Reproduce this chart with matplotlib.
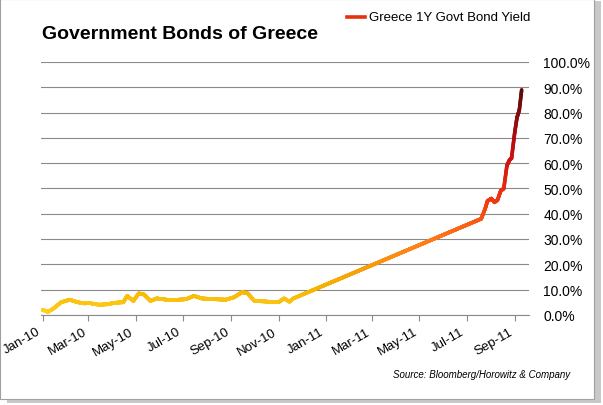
import numpy as np
import pandas as pd
import matplotlib.pyplot as plt
import matplotlib.dates as mdates
from matplotlib.collections import LineCollection
from matplotlib.colors import LinearSegmentedColormap
from matplotlib.patches import Rectangle

dates = ["2010-01-01", "2010-01-08", "2010-01-15", "2010-01-25", "2010-02-05", "2010-02-15",
         "2010-02-25", "2010-03-05", "2010-03-15", "2010-03-25", "2010-04-05", "2010-04-15",
         "2010-04-20", "2010-04-28", "2010-05-05", "2010-05-12", "2010-05-20", "2010-05-28",
         "2010-06-10", "2010-06-25", "2010-07-05", "2010-07-15", "2010-07-25", "2010-08-10",
         "2010-08-25", "2010-09-05", "2010-09-15", "2010-09-22", "2010-10-01", "2010-10-15",
         "2010-10-25", "2010-11-02", "2010-11-08", "2010-11-15", "2010-11-20",
         "2011-07-20", "2011-07-25", "2011-07-28", "2011-08-02", "2011-08-06", "2011-08-10",
         "2011-08-14", "2011-08-18", "2011-08-22", "2011-08-25", "2011-08-28", "2011-09-01",
         "2011-09-04", "2011-09-07", "2011-09-10"]
yields = [2.0, 1.2, 2.5, 5.0, 6.0, 5.0, 4.5, 4.5, 4.0, 4.2, 4.8, 5.0,
          7.5, 5.5, 8.5, 8.0, 5.5, 6.5, 6.0, 6.0, 6.2, 7.5, 6.5, 6.2,
          6.0, 7.0, 9.0, 8.5, 5.5, 5.3, 5.0, 5.2, 6.5, 5.2, 6.5,
          38.0, 42.0, 45.0, 46.0, 44.5, 45.5, 49.0, 50.0, 59.0, 61.0, 62.0, 72.0,
          78.0, 81.0, 89.0]

x = mdates.date2num(pd.to_datetime(dates))
y = np.array(yields)
xs = np.linspace(x[0], x[-1], 3000)
xs = np.sort(np.concatenate([xs, x]))
ys = np.interp(xs, x, y)

cmap = LinearSegmentedColormap.from_list(
    "g", [(0, "#ffd21f"), (0.12, "#f5b400"), (0.33, "#ff7a1a"), (0.5, "#f03a10"),
          (0.7, "#d01010"), (1.0, "#5a0a0a")])
pts = np.column_stack([xs, ys]).reshape(-1, 1, 2)
segs = np.concatenate([pts[:-1], pts[1:]], axis=1)
lc = LineCollection(segs, cmap=cmap, norm=plt.Normalize(0, 90), linewidth=2.6,
                    capstyle="round")
lc.set_array((ys[:-1] + ys[1:]) / 2)

fig = plt.figure(figsize=(6.03, 4.06), dpi=100)
fig.patches.append(Rectangle((0.012, 0.005), 0.985, 0.99, transform=fig.transFigure,
                             fc="#c8c8c8", ec="none", zorder=-2))
fig.patches.append(Rectangle((0.0, 0.015), 0.985, 0.985, transform=fig.transFigure,
                             fc="white", ec="#a0a0a0", lw=0.8, zorder=-1))
ax = fig.add_axes([0.068, 0.222, 0.81, 0.623])
ax.add_collection(lc)
ax.set_xlim(mdates.date2num(pd.Timestamp("2009-12-30")), mdates.date2num(pd.Timestamp("2011-09-20")))
ax.set_ylim(0, 100)
ax.yaxis.tick_right()
ax.set_yticks(np.arange(0, 101, 10))
ax.set_yticklabels([f"{v:.1f}%" for v in range(0, 101, 10)], fontsize=10,
                   family="Liberation Sans")
ax.grid(axis="y", color="#8a8a8a", lw=0.8)
ax.set_axisbelow(True)
ticks = pd.date_range("2010-01-01", "2011-09-01", freq="2MS")
ax.set_xticks(mdates.date2num(ticks))
ax.set_xticklabels([t.strftime("%b-%y") for t in ticks], rotation=30, ha="right",
                   fontsize=9.5, family="Liberation Sans")
for s in ["top", "right", "left"]:
    ax.spines[s].set_visible(False)
ax.spines["bottom"].set_color("#8a8a8a")
ax.tick_params(axis="y", length=0, pad=10)
ax.tick_params(axis="x", color="#8a8a8a", length=4)

fig.text(0.07, 0.905, "Government Bonds of Greece", fontsize=14, fontweight="bold",
         family="Liberation Sans")
fig.add_artist(plt.Line2D([0.575, 0.605], [0.955, 0.955], color="#e8300c", lw=2.6,
                          transform=fig.transFigure))
fig.text(0.612, 0.955, "Greece 1Y Govt Bond Yield", fontsize=9.5, va="center",
         family="Liberation Sans")
fig.text(0.945, 0.07, "Source: Bloomberg/Horowitz & Company", fontsize=7, style="italic",
         ha="right", family="Liberation Sans")
fig.savefig("out.png", dpi=100)
